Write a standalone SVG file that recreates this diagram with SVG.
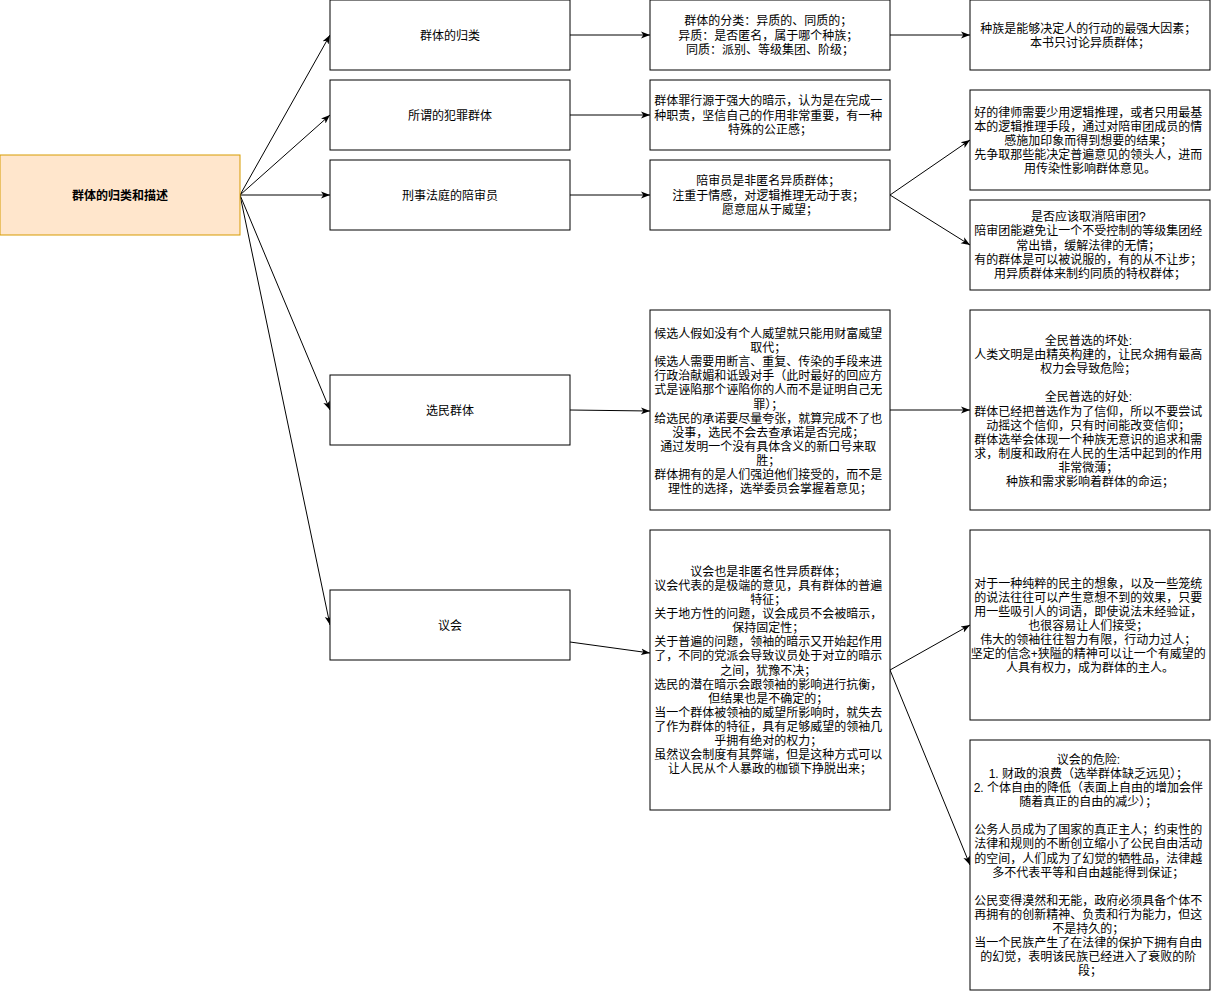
<svg xmlns="http://www.w3.org/2000/svg" width="1211" height="991" viewBox="0 0 1211 991">
<style>
  .box { fill: #ffffff; stroke: #000000; stroke-width: 1; }
  .root { fill: #ffe6cc; stroke: #d79b00; stroke-width: 1; }
  text { font-family: "Liberation Sans", "Noto Sans CJK SC", sans-serif; font-size: 12px; fill: #000000; text-anchor: middle; }
  .bold { font-weight: bold; }
  .edge { fill: none; stroke: #000000; stroke-width: 1; marker-end: url(#arrow); }
</style>
<defs>
  <marker id="arrow" viewBox="0 0 10 10" refX="10" refY="5" markerWidth="9" markerHeight="9" markerUnits="userSpaceOnUse" orient="auto">
    <path d="M0,1.2 L10,5 L0,8.8 L2.6,5 Z" fill="#000000"/>
  </marker>
</defs>
<rect width="1211" height="991" fill="#ffffff"/>

<g id="connectors">
  <path class="edge" d="M240,195 L330,35"/>
  <path class="edge" d="M240,195 L330,115"/>
  <path class="edge" d="M240,195 L330,195"/>
  <path class="edge" d="M240,195 L330,410"/>
  <path class="edge" d="M240,195 L330,625"/>
  <path class="edge" d="M570,35 L650,35"/>
  <path class="edge" d="M570,115 L650,115"/>
  <path class="edge" d="M570,195 L650,195"/>
  <path class="edge" d="M570,410 L650,411"/>
  <path class="edge" d="M570,642 L650,653"/>
  <path class="edge" d="M890,35 L970,35"/>
  <path class="edge" d="M890,195 L970,140"/>
  <path class="edge" d="M890,195 L970,245"/>
  <path class="edge" d="M890,410 L970,410"/>
  <path class="edge" d="M890,670 L970,625"/>
  <path class="edge" d="M890,670 L970,865"/>
</g>

<g id="root">
  <rect class="root" x="0" y="155" width="240" height="80"/>
  <text class="bold" x="120" y="199.5">群体的归类和描述</text>
</g>

<g id="n-classify">
  <rect class="box" x="330" y="0" width="240" height="70"/>
  <text x="450" y="39.5">群体的归类</text>
</g>
<g id="n-criminal">
  <rect class="box" x="330" y="80" width="240" height="70"/>
  <text x="450" y="119.5">所谓的犯罪群体</text>
</g>
<g id="n-jury">
  <rect class="box" x="330" y="160" width="240" height="70"/>
  <text x="450" y="199.5">刑事法庭的陪审员</text>
</g>
<g id="n-voters">
  <rect class="box" x="330" y="375" width="240" height="70"/>
  <text x="450" y="414.5">选民群体</text>
</g>
<g id="n-parliament">
  <rect class="box" x="330" y="590" width="240" height="70"/>
  <text x="450" y="629.5">议会</text>
</g>

<g id="n-classify-detail">
  <rect class="box" x="650" y="0" width="240" height="70"/>
  <text x="770" y="25.4">
    <tspan x="770">群体的分类：异质的、同质的；</tspan>
    <tspan x="770" dy="14.1">异质：是否匿名，属于哪个种族；</tspan>
    <tspan x="770" dy="14.1">同质：派别、等级集团、阶级；</tspan>
  </text>
</g>
<g id="n-criminal-detail">
  <rect class="box" x="650" y="80" width="240" height="70"/>
  <text x="770" y="105.4">
    <tspan x="770">群体罪行源于强大的暗示，认为是在完成一</tspan>
    <tspan x="770" dy="14.1">种职责，坚信自己的作用非常重要，有一种</tspan>
    <tspan x="770" dy="14.1">特殊的公正感；</tspan>
  </text>
</g>
<g id="n-jury-detail">
  <rect class="box" x="650" y="160" width="240" height="70"/>
  <text x="770" y="185.4">
    <tspan x="770">陪审员是非匿名异质群体；</tspan>
    <tspan x="770" dy="14.1">注重于情感，对逻辑推理无动于衷；</tspan>
    <tspan x="770" dy="14.1">愿意屈从于威望；</tspan>
  </text>
</g>
<g id="n-voters-detail">
  <rect class="box" x="650" y="310" width="240" height="200"/>
  <text x="770" y="338">
    <tspan x="770">候选人假如没有个人威望就只能用财富威望</tspan>
    <tspan x="770" dy="14.1">取代；</tspan>
    <tspan x="770" dy="14.1">候选人需要用断言、重复、传染的手段来进</tspan>
    <tspan x="770" dy="14.1">行政治献媚和诋毁对手（此时最好的回应方</tspan>
    <tspan x="770" dy="14.1">式是诬陷那个诬陷你的人而不是证明自己无</tspan>
    <tspan x="770" dy="14.1">罪）；</tspan>
    <tspan x="770" dy="14.1">给选民的承诺要尽量夸张，就算完成不了也</tspan>
    <tspan x="770" dy="14.1">没事，选民不会去查承诺是否完成；</tspan>
    <tspan x="770" dy="14.1">通过发明一个没有具体含义的新口号来取</tspan>
    <tspan x="770" dy="14.1">胜；</tspan>
    <tspan x="770" dy="14.1">群体拥有的是人们强迫他们接受的，而不是</tspan>
    <tspan x="770" dy="14.1">理性的选择，选举委员会掌握着意见；</tspan>
  </text>
</g>
<g id="n-parliament-detail">
  <rect class="box" x="650" y="530" width="240" height="280"/>
  <text x="770" y="575.8">
    <tspan x="770">议会也是非匿名性异质群体；</tspan>
    <tspan x="770" dy="14.1">议会代表的是极端的意见，具有群体的普遍</tspan>
    <tspan x="770" dy="14.1">特征；</tspan>
    <tspan x="770" dy="14.1">关于地方性的问题，议会成员不会被暗示，</tspan>
    <tspan x="770" dy="14.1">保持固定性；</tspan>
    <tspan x="770" dy="14.1">关于普遍的问题，领袖的暗示又开始起作用</tspan>
    <tspan x="770" dy="14.1">了，不同的党派会导致议员处于对立的暗示</tspan>
    <tspan x="770" dy="14.1">之间，犹豫不决；</tspan>
    <tspan x="770" dy="14.1">选民的潜在暗示会跟领袖的影响进行抗衡，</tspan>
    <tspan x="770" dy="14.1">但结果也是不确定的；</tspan>
    <tspan x="770" dy="14.1">当一个群体被领袖的威望所影响时，就失去</tspan>
    <tspan x="770" dy="14.1">了作为群体的特征，具有足够威望的领袖几</tspan>
    <tspan x="770" dy="14.1">乎拥有绝对的权力；</tspan>
    <tspan x="770" dy="14.1">虽然议会制度有其弊端，但是这种方式可以</tspan>
    <tspan x="770" dy="14.1">让人民从个人暴政的枷锁下挣脱出来；</tspan>
  </text>
</g>

<g id="n-race">
  <rect class="box" x="970" y="0" width="240" height="70"/>
  <text x="1090" y="32.5">
    <tspan x="1090">种族是能够决定人的行动的最强大因素；</tspan>
    <tspan x="1090" dy="14.1">本书只讨论异质群体；</tspan>
  </text>
</g>
<g id="n-lawyer">
  <rect class="box" x="970" y="90" width="240" height="100"/>
  <text x="1090" y="116.8">
    <tspan x="1090">好的律师需要少用逻辑推理，或者只用最基</tspan>
    <tspan x="1090" dy="14.1">本的逻辑推理手段，通过对陪审团成员的情</tspan>
    <tspan x="1090" dy="14.1">感施加印象而得到想要的结果；</tspan>
    <tspan x="1090" dy="14.1">先争取那些能决定普遍意见的领头人，进而</tspan>
    <tspan x="1090" dy="14.1">用传染性影响群体意见。</tspan>
  </text>
</g>
<g id="n-abolish-jury">
  <rect class="box" x="970" y="200" width="240" height="90"/>
  <text x="1090" y="221.3">
    <tspan x="1090">是否应该取消陪审团?</tspan>
    <tspan x="1090" dy="14.1">陪审团能避免让一个不受控制的等级集团经</tspan>
    <tspan x="1090" dy="14.1">常出错，缓解法律的无情；</tspan>
    <tspan x="1090" dy="14.1">有的群体是可以被说服的，有的从不让步；</tspan>
    <tspan x="1090" dy="14.1">用异质群体来制约同质的特权群体；</tspan>
  </text>
</g>
<g id="n-suffrage">
  <rect class="box" x="970" y="310" width="240" height="200"/>
  <text x="1090" y="345">
    <tspan x="1090">全民普选的坏处:</tspan>
    <tspan x="1090" dy="14.1">人类文明是由精英构建的，让民众拥有最高</tspan>
    <tspan x="1090" dy="14.1">权力会导致危险；</tspan>
    <tspan x="1090" dy="28.2">全民普选的好处:</tspan>
    <tspan x="1090" dy="14.1">群体已经把普选作为了信仰，所以不要尝试</tspan>
    <tspan x="1090" dy="14.1">动摇这个信仰，只有时间能改变信仰；</tspan>
    <tspan x="1090" dy="14.1">群体选举会体现一个种族无意识的追求和需</tspan>
    <tspan x="1090" dy="14.1">求，制度和政府在人民的生活中起到的作用</tspan>
    <tspan x="1090" dy="14.1">非常微薄；</tspan>
    <tspan x="1090" dy="14.1">种族和需求影响着群体的命运；</tspan>
  </text>
</g>
<g id="n-democracy">
  <rect class="box" x="970" y="530" width="240" height="190"/>
  <text x="1090" y="587.7">
    <tspan x="1090">对于一种纯粹的民主的想象，以及一些笼统</tspan>
    <tspan x="1090" dy="14.1">的说法往往可以产生意想不到的效果，只要</tspan>
    <tspan x="1090" dy="14.1">用一些吸引人的词语，即使说法未经验证，</tspan>
    <tspan x="1090" dy="14.1">也很容易让人们接受；</tspan>
    <tspan x="1090" dy="14.1">伟大的领袖往往智力有限，行动力过人；</tspan>
    <tspan x="1090" dy="14.1">坚定的信念+狭隘的精神可以让一个有威望的</tspan>
    <tspan x="1090" dy="14.1">人具有权力，成为群体的主人。</tspan>
  </text>
</g>
<g id="n-danger">
  <rect class="box" x="970" y="740" width="240" height="250"/>
  <text x="1090" y="763.8">
    <tspan x="1090">议会的危险:</tspan>
    <tspan x="1090" dy="14.1">1. 财政的浪费（选举群体缺乏远见）；</tspan>
    <tspan x="1090" dy="14.1">2. 个体自由的降低（表面上自由的增加会伴</tspan>
    <tspan x="1090" dy="14.1">随着真正的自由的减少）；</tspan>
    <tspan x="1090" dy="28.2">公务人员成为了国家的真正主人；约束性的</tspan>
    <tspan x="1090" dy="14.1">法律和规则的不断创立缩小了公民自由活动</tspan>
    <tspan x="1090" dy="14.1">的空间，人们成为了幻觉的牺牲品，法律越</tspan>
    <tspan x="1090" dy="14.1">多不代表平等和自由越能得到保证；</tspan>
    <tspan x="1090" dy="28.2">公民变得漠然和无能，政府必须具备个体不</tspan>
    <tspan x="1090" dy="14.1">再拥有的创新精神、负责和行为能力，但这</tspan>
    <tspan x="1090" dy="14.1">不是持久的；</tspan>
    <tspan x="1090" dy="14.1">当一个民族产生了在法律的保护下拥有自由</tspan>
    <tspan x="1090" dy="14.1">的幻觉，表明该民族已经进入了衰败的阶</tspan>
    <tspan x="1090" dy="14.1">段；</tspan>
  </text>
</g>
</svg>
